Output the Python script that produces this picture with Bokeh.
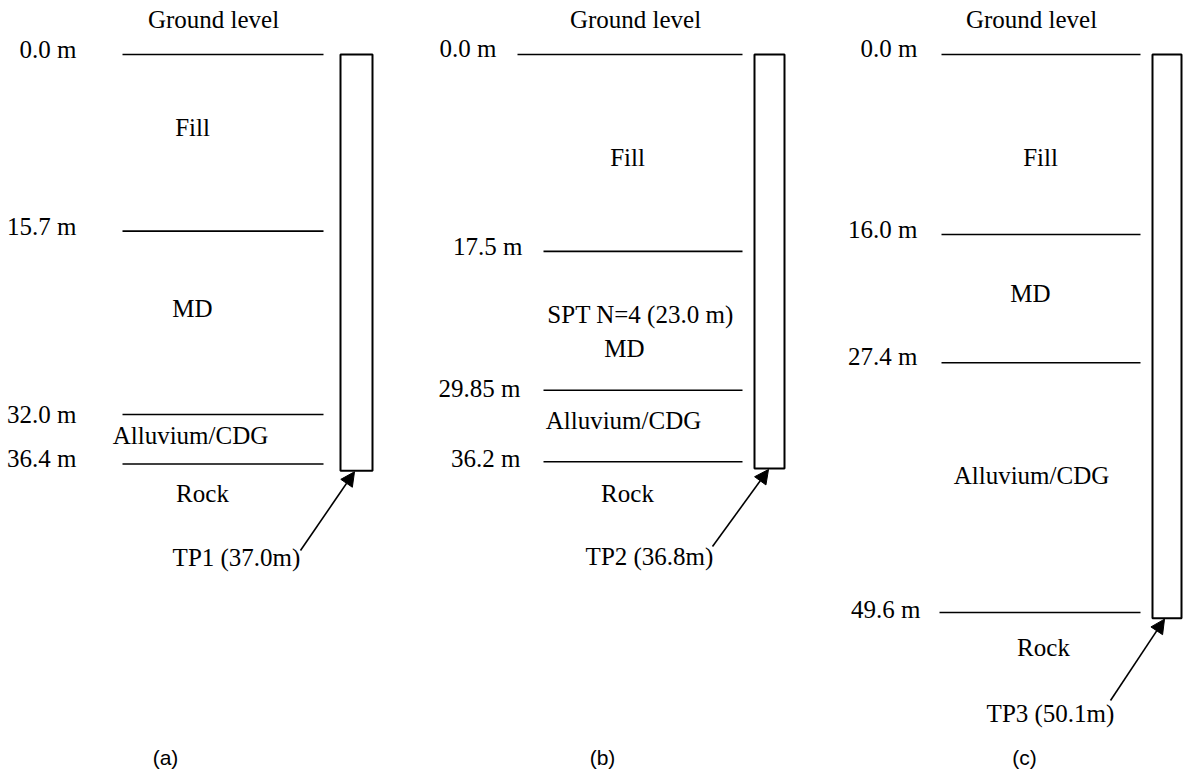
from bokeh.plotting import figure
from bokeh.models import Range1d, ColumnDataSource, Arrow, NormalHead
from bokeh.core.properties import value
from bokeh.embed import file_html
from bokeh.resources import INLINE

# ---------------- data ----------------
panel_letters = ["(a)", "(b)", "(c)"]
pile_names = ["TP1", "TP2", "TP3"]
pile_depths = [37.0, 36.8, 50.1]
layer_names = ["Fill", "MD", "Alluvium/CDG", "Rock"]
boundaries_a = [0.0, 15.7, 32.0, 36.4]
boundaries_b = [0.0, 17.5, 29.85, 36.2]
boundaries_c = [0.0, 16.0, 27.4, 49.6]
spt_note_b = "SPT N=4 (23.0 m)"
ground_label = "Ground level"
boundaries = [boundaries_a, boundaries_b, boundaries_c]

# ---------------- layout (screen positions) ----------------
W, H = 1184, 773
PX_PER_M = 11.25
TOP_PX = 54


def d(py):
    """image pixel row -> depth coordinate (for layout of texts only)"""
    return (py - TOP_PX) / PX_PER_M


layout = [
    dict(line_x0=[122, 122, 122, 122], line_x1=323, lab_right=[76, 76, 76, 76],
         lab_dy=[-5, -5, 0, -6], pile=(340, 372), ground_x=213,
         layer_xy=[(192, 127), (192, 308), (190, 435), (202, 493)],
         tp_xy=(236, 557), tail=(300, 550), head_x=354, letter_x=165),
    dict(line_x0=[517, 543, 543, 543], line_x1=742, lab_right=[496, 522, 520, 520],
         lab_dy=[-6, -5, -2, -3], pile=(754, 784), ground_x=635,
         layer_xy=[(627, 157), (624, 348), (623, 420), (627, 493)],
         tp_xy=(649, 556), tail=(712, 546), head_x=768, letter_x=602,
         spt_xy=(640, 314)),
    dict(line_x0=[941, 941, 941, 939], line_x1=1140, lab_right=[917, 917, 917, 920],
         lab_dy=[-6, -5, -6, -3], pile=(1152, 1181), ground_x=1031,
         layer_xy=[(1040, 157), (1030, 293), (1031, 475), (1043, 647)],
         tp_xy=(1050, 713), tail=(1110, 700), head_x=1164, letter_x=1024),
]

SERIF = value("Liberation Serif")
FS = "25px"

p = figure(width=W, height=H, x_range=Range1d(0, W),
           y_range=Range1d(start=d(H), end=d(0)),
           output_backend="svg", toolbar_location=None, min_border=0,
           x_axis_location=None, y_axis_location=None)
p.grid.visible = False
p.outline_line_color = None
p.background_fill_color = "white"
p.border_fill_color = "white"

seg = dict(x0=[], x1=[], y=[])
blab = dict(x=[], y=[], t=[])
ltxt = dict(x=[], y=[], t=[])
gtxt = dict(x=[], y=[], t=[])
piles = dict(l=[], r=[], top=[], bottom=[])
tptxt = dict(x=[], y=[], t=[])
letters = dict(x=[], y=[], t=[])
arr = dict(xs=[], ys=[], xe=[], ye=[])

for i, L in enumerate(layout):
    bnd = boundaries[i]
    for k, depth in enumerate(bnd):
        seg["x0"].append(L["line_x0"][k])
        seg["x1"].append(L["line_x1"])
        seg["y"].append(depth)
        blab["x"].append(L["lab_right"][k])
        blab["y"].append(depth + L["lab_dy"][k] / PX_PER_M)
        blab["t"].append(f"{depth} m")
    for k, name in enumerate(layer_names):
        lx, ly = L["layer_xy"][k]
        ltxt["x"].append(lx)
        ltxt["y"].append(d(ly))
        ltxt["t"].append(name)
    if "spt_xy" in L:
        ltxt["x"].append(L["spt_xy"][0])
        ltxt["y"].append(d(L["spt_xy"][1]))
        ltxt["t"].append(spt_note_b)
    gtxt["x"].append(L["ground_x"])
    gtxt["y"].append(d(19))
    gtxt["t"].append(ground_label)
    piles["l"].append(L["pile"][0])
    piles["r"].append(L["pile"][1])
    piles["top"].append(bnd[0])
    piles["bottom"].append(pile_depths[i])
    tptxt["x"].append(L["tp_xy"][0])
    tptxt["y"].append(d(L["tp_xy"][1]))
    tptxt["t"].append(f"{pile_names[i]} ({pile_depths[i]}m)")
    letters["x"].append(L["letter_x"])
    letters["y"].append(d(757))
    letters["t"].append(panel_letters[i])
    arr["xs"].append(L["tail"][0])
    arr["ys"].append(d(L["tail"][1]))
    arr["xe"].append(L["head_x"])
    arr["ye"].append(pile_depths[i] + 1.0 / PX_PER_M)

p.segment(x0="x0", x1="x1", y0="y", y1="y", source=ColumnDataSource(seg),
          line_color="black", line_width=1.6)
p.quad(left="l", right="r", top="top", bottom="bottom", source=ColumnDataSource(piles),
       fill_color="white", line_color="black", line_width=2)

for src, align in [(blab, "right"), (ltxt, "center"), (gtxt, "center"), (tptxt, "center")]:
    p.text(x="x", y="y", text="t", source=ColumnDataSource(src), text_font=SERIF,
           text_font_size=FS, text_align=align, text_baseline="middle", text_color="black")

p.text(x="x", y="y", text="t", source=ColumnDataSource(letters),
       text_font=value("Liberation Sans"), text_font_size="21px",
       text_align="center", text_baseline="middle", text_color="black")

p.add_layout(Arrow(end=NormalHead(size=14, fill_color="black", line_color="black", line_width=1),
                   x_start="xs", y_start="ys", x_end="xe", y_end="ye",
                   source=ColumnDataSource(arr), line_color="black", line_width=1.6))

open("out.html", "w").write(file_html(p, INLINE))
